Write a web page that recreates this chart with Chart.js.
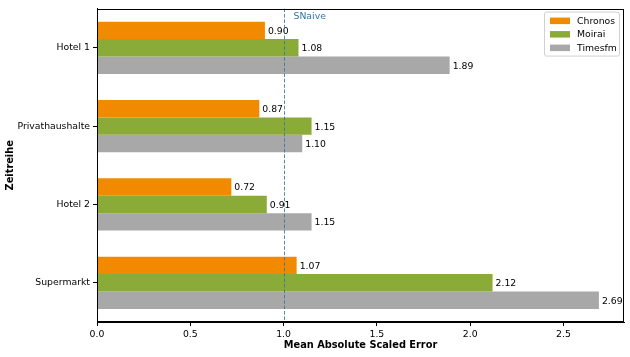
<!DOCTYPE html>
<html>
<head>
<meta charset="utf-8">
<script src="https://cdn.jsdelivr.net/npm/chart.js@4"></script>
<style>
html,body{margin:0;padding:0;background:#fff;}
#wrap{width:630px;height:357px;}
</style>
</head>
<body>
<div id="wrap"><canvas id="c" width="630" height="357"></canvas></div>
<script>
const categories = ["Hotel 1", "Privathaushalte", "Hotel 2", "Supermarkt"];
const chronos = [0.90, 0.87, 0.72, 1.07];
const moirai = [1.08, 1.15, 0.91, 2.12];
const timesfm = [1.89, 1.10, 1.15, 2.69];
const seriesNames = ["Chronos", "Moirai", "Timesfm"];
const xTicks = [0, 0.5, 1.0, 1.5, 2.0, 2.5];
const baselineValue = 1.0;
const baselineLabel = "SNaive";
const xTitle = "Mean Absolute Scaled Error";
const yTitle = "Zeitreihe";

const colors = ["#f28a00", "#8aab38", "#a8a8a8"];
const FONT = "'DejaVu Sans', sans-serif";
const FS = 9.3;

const extras = {
  id: 'extras',
  afterDatasetsDraw(chart) {
    const {ctx, chartArea: a, scales: {x, y}} = chart;
    ctx.save();
    // value labels
    ctx.font = FS + "px " + FONT;
    ctx.fillStyle = "#000";
    ctx.textBaseline = "middle";
    ctx.textAlign = "left";
    chart.data.datasets.forEach((ds, i) => {
      chart.getDatasetMeta(i).data.forEach((bar, j) => {
        ctx.fillText(ds.data[j].toFixed(2), bar.x + 3, bar.y + 1);
      });
    });
    // baseline
    const bx = Math.round(x.getPixelForValue(baselineValue)) + 0.5;
    ctx.strokeStyle = "rgba(60,115,155,0.85)";
    ctx.lineWidth = 1;
    ctx.setLineDash([3.6, 1.8]);
    ctx.beginPath();
    ctx.moveTo(bx, a.top);
    ctx.lineTo(bx, a.bottom);
    ctx.stroke();
    ctx.setLineDash([]);
    ctx.fillStyle = "#2a78a6";
    ctx.fillText(baselineLabel, bx + 9, a.top + 8);
    // frame
    ctx.strokeStyle = "#000";
    ctx.lineWidth = 1;
    ctx.strokeRect(Math.round(a.left) + 0.5, Math.round(a.top) + 0.5, Math.round(a.right - a.left) - 1, Math.round(a.bottom - a.top) - 1);
    // legend
    const lx = a.right - 80, ly = a.top + 3, lw = 75, lh = 44;
    ctx.fillStyle = "rgba(255,255,255,0.8)";
    ctx.strokeStyle = "#d0d0d0";
    ctx.beginPath();
    if (ctx.roundRect) ctx.roundRect(lx + 0.5, ly + 0.5, lw, lh, 2); else ctx.rect(lx + 0.5, ly + 0.5, lw, lh);
    ctx.fill();
    ctx.stroke();
    chart.data.datasets.forEach((ds, i) => {
      const ry = ly + 9 + i * 13.5;
      ctx.fillStyle = ds.backgroundColor;
      ctx.fillRect(lx + 6, ry - 3, 20, 6.5);
      ctx.fillStyle = "#000";
      ctx.fillText(ds.label, lx + 33, ry + 1);
    });
    ctx.restore();
  }
};

new Chart(document.getElementById('c'), {
  type: 'bar',
  data: {
    labels: categories,
    datasets: [
      {label: seriesNames[0], data: chronos, backgroundColor: colors[0]},
      {label: seriesNames[1], data: moirai, backgroundColor: colors[1]},
      {label: seriesNames[2], data: timesfm, backgroundColor: colors[2]}
    ]
  },
  options: {
    indexAxis: 'y',
    responsive: false,
    animation: false,
    devicePixelRatio: 1,
    categoryPercentage: 0.667,
    barPercentage: 1.0,
    layout: {padding: {top: 6, right: 6, left: 0, bottom: 0}},
    plugins: {legend: {display: false}, tooltip: {enabled: false}},
    scales: {
      x: {
        type: 'linear',
        min: 0,
        max: 2.8245,
        afterBuildTicks(s) { s.ticks = xTicks.map(v => ({value: v})); },
        afterFit(s) { s.height = 35; },
        grid: {display: true, drawOnChartArea: false, drawTicks: true, tickLength: 4, color: "#000", tickColor: "#000"},
        border: {display: true, color: "#000"},
        ticks: {color: "#000", font: {family: FONT, size: FS}, padding: 3, maxRotation: 0,
          callback: v => Number(v).toFixed(1)},
        title: {display: true, text: xTitle, color: "#000", font: {family: FONT, size: 9.8, weight: 'bold'}, padding: {top: 0, bottom: 6}}
      },
      y: {
        type: 'category',
        offset: true,
        afterFit(s) { s.width = 97; },
        grid: {display: true, drawOnChartArea: false, drawTicks: true, tickLength: 4, color: "#000", tickColor: "#000", offset: false},
        border: {display: true, color: "#000"},
        ticks: {color: "#000", font: {family: FONT, size: FS}, padding: 3},
        title: {display: true, text: yTitle, color: "#000", font: {family: FONT, size: 9.8, weight: 'bold'}, padding: {top: 5, bottom: 4}}
      }
    }
  },
  plugins: [extras]
});
</script>
</body>
</html>
